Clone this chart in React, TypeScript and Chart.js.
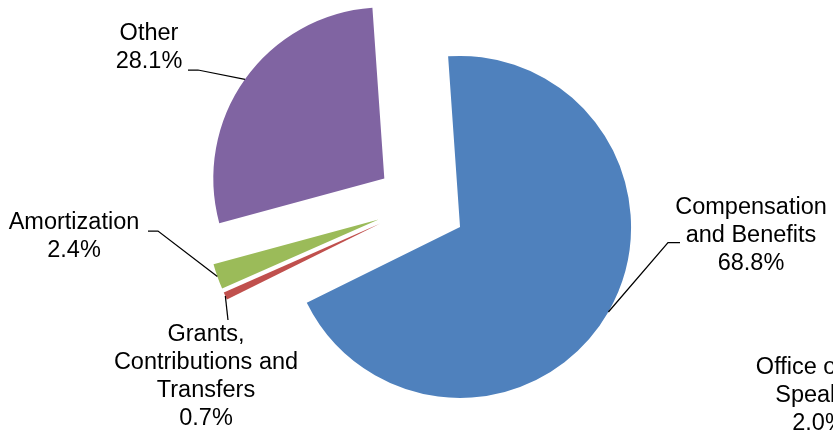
import React, { useEffect, useRef } from 'react';
import { Chart, registerables } from 'chart.js';

Chart.register(...registerables);

// ---- data ----
const categories = [
  'Compensation and Benefits',
  'Grants, Contributions and Transfers',
  'Amortization',
  'Other',
];
const shares = [68.8, 0.7, 2.4, 28.1];
const labelLines = [
  ['Compensation', 'and Benefits'],
  ['Grants,', 'Contributions and', 'Transfers'],
  ['Amortization'],
  ['Other'],
];
const strayLabelLines = ['Office of the', 'Speaker'];
const strayShare = 2.0;

// ---- style / layout ----
const colors = ['#4F81BD', '#C0504D', '#9BBB59', '#8064A2'];
const EXPLODE = 45;
const FONT = '23.5px "Liberation Sans", Arial, sans-serif';
const LINE_H = 27.8;
const labelLayout = [
  { x: 751, y: 208, path: [[668, 242.5], [680, 242.5]] },
  { x: 206, y: 335, path: [[228, 320]] },
  { x: 74, y: 223, path: [[158, 231], [148, 231]] },
  { x: 149, y: 34, path: [[198, 70], [188, 70]] },
];
const strayLayout = { x: 819, y: 367.5 };

const explodePlugin = {
  id: 'explodeSlices',
  afterDatasetsUpdate(chart: any) {
    const meta = chart.getDatasetMeta(0);
    meta.data.forEach((el: any) => {
      const mid = (el.startAngle + el.endAngle) / 2;
      el.x += Math.cos(mid) * EXPLODE;
      el.y += Math.sin(mid) * EXPLODE;
    });
  },
};

const labelPlugin = {
  id: 'sliceLabels',
  afterDraw(chart: any) {
    const ctx = chart.ctx;
    const meta = chart.getDatasetMeta(0);
    ctx.save();
    ctx.font = FONT;
    ctx.fillStyle = '#000';
    ctx.strokeStyle = '#000';
    ctx.lineWidth = 1.25;
    ctx.textAlign = 'center';
    ctx.textBaseline = 'middle';
    meta.data.forEach((el: any, i: number) => {
      const lay = labelLayout[i];
      const mid = (el.startAngle + el.endAngle) / 2;
      const r = el.outerRadius;
      const sx = el.x + Math.cos(mid) * r;
      const sy = el.y + Math.sin(mid) * r;
      ctx.beginPath();
      ctx.moveTo(sx, sy);
      lay.path.forEach((p) => ctx.lineTo(p[0], p[1]));
      ctx.stroke();
      const lines = [...labelLines[i], shares[i].toFixed(1) + '%'];
      lines.forEach((t, k) => ctx.fillText(t, lay.x, lay.y + k * LINE_H));
    });
    const stray = [...strayLabelLines, strayShare.toFixed(1) + '%'];
    stray.forEach((t, k) => ctx.fillText(t, strayLayout.x, strayLayout.y + k * LINE_H));
    ctx.restore();
  },
};

export default function App() {
  const ref = useRef<HTMLCanvasElement | null>(null);
  useEffect(() => {
    if (!ref.current) return;
    const chart = new Chart(ref.current, {
      type: 'pie',
      data: {
        labels: categories,
        datasets: [
          {
            data: shares,
            backgroundColor: colors,
            borderWidth: 0,
          },
        ],
      },
      options: {
        animation: false,
        responsive: true,
        maintainAspectRatio: false,
        rotation: -4,
        radius: 171,
        layout: { padding: { left: 9, right: 0, top: 0, bottom: 23 } },
        plugins: {
          legend: { display: false },
          tooltip: { enabled: false },
        },
        events: [],
      } as any,
      plugins: [explodePlugin, labelPlugin],
    });
    return () => chart.destroy();
  }, []);
  return (
    <div style={{ position: 'fixed', left: 0, top: 0, width: 833, height: 432, background: '#fff' }}>
      <canvas ref={ref} />
    </div>
  );
}
